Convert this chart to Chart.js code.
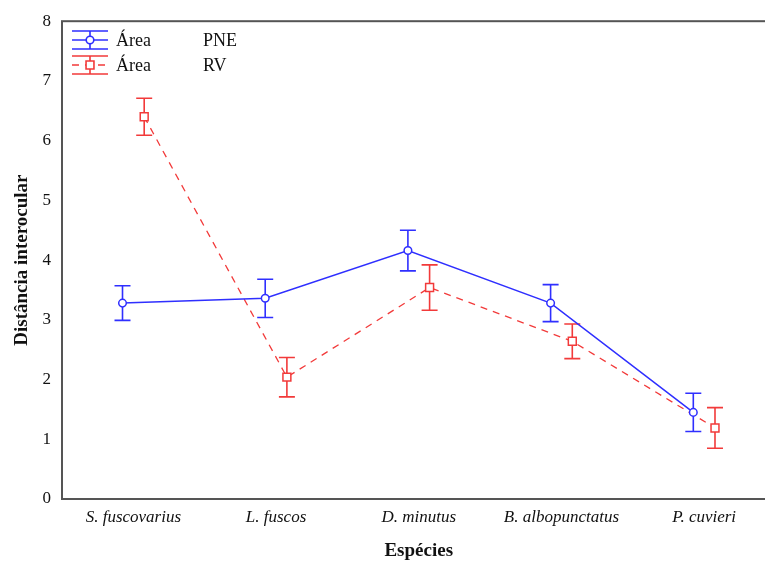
<!DOCTYPE html>
<html>
<head>
<meta charset="utf-8">
<script src="https://cdn.jsdelivr.net/npm/chart.js@4/dist/chart.umd.min.js"></script>
<style>
  html, body { margin: 0; padding: 0; background: #fff; overflow: hidden; width: 765px; height: 564px; }
  #wrap { width: 800px; height: 564px; }
</style>
</head>
<body>
<div id="wrap"><canvas id="chart" width="800" height="564"></canvas></div>
<script>
// data
const especies = ['S. fuscovarius', 'L. fuscos', 'D. minutus', 'B. albopunctatus', 'P. cuvieri'];
const grupo = 'Área';
const series = ['PNE', 'RV'];
const pne = [3.28, 3.36, 4.16, 3.28, 1.45];
const pneErr = [0.29, 0.32, 0.34, 0.31, 0.32];
const rv = [6.40, 2.04, 3.54, 2.64, 1.19];
const rvErr = [0.31, 0.33, 0.38, 0.29, 0.34];
const yTicks = [0, 1, 2, 3, 4, 5, 6, 7, 8];

const BLUE = '#2f2fff';
const RED = '#f23a3a';
const dodge = 0.076;

const serif = 'Liberation Serif, Times New Roman, serif';

// draw error bars under the points
const errorBars = {
  id: 'errorBars',
  beforeDatasetsDraw(chart) {
    const ctx = chart.ctx;
    const ys = chart.scales.y;
    chart.data.datasets.forEach((ds, di) => {
      const meta = chart.getDatasetMeta(di);
      ctx.save();
      ctx.strokeStyle = ds.borderColor;
      ctx.lineWidth = 1.6;
      meta.data.forEach((pt, i) => {
        const v = ds.data[i].y, e = ds.errors[i];
        const top = ys.getPixelForValue(v + e);
        const bot = ys.getPixelForValue(v - e);
        ctx.beginPath();
        ctx.moveTo(pt.x, top); ctx.lineTo(pt.x, bot);
        ctx.moveTo(pt.x - 8, top); ctx.lineTo(pt.x + 8, top);
        ctx.moveTo(pt.x - 8, bot); ctx.lineTo(pt.x + 8, bot);
        ctx.stroke();
      });
      ctx.restore();
    });
  }
};

// frame around plot area
const frame = {
  id: 'frame',
  beforeDatasetsDraw(chart) {
    const a = chart.chartArea, ctx = chart.ctx;
    ctx.save();
    ctx.strokeStyle = '#555';
    ctx.lineWidth = 2;
    ctx.strokeRect(a.left, a.top, a.right - a.left, a.bottom - a.top);
    ctx.restore();
  }
};

// statistica-like legend in the upper left corner
const cornerLegend = {
  id: 'cornerLegend',
  afterDraw(chart) {
    const ctx = chart.ctx;
    const rows = [40, 65];
    chart.data.datasets.forEach((ds, di) => {
      const cy = rows[di];
      const x0 = 72, x1 = 108, cx = 90;
      ctx.save();
      ctx.strokeStyle = ds.borderColor;
      ctx.lineWidth = 1.6;
      ctx.beginPath();
      ctx.moveTo(x0, cy - 9); ctx.lineTo(x1, cy - 9);
      ctx.moveTo(x0, cy + 9); ctx.lineTo(x1, cy + 9);
      ctx.moveTo(cx, cy - 9); ctx.lineTo(cx, cy + 9);
      ctx.stroke();
      ctx.setLineDash(ds.borderDash || []);
      ctx.beginPath();
      ctx.moveTo(x0, cy); ctx.lineTo(x1, cy);
      ctx.stroke();
      ctx.setLineDash([]);
      ctx.fillStyle = '#fff';
      ctx.beginPath();
      if (ds.pointStyle === 'rect') {
        const s = ds.pointRadius * Math.SQRT1_2;
        ctx.rect(cx - s, cy - s, 2 * s, 2 * s);
      } else {
        ctx.arc(cx, cy, ds.pointRadius, 0, Math.PI * 2);
      }
      ctx.fill();
      ctx.stroke();
      ctx.fillStyle = '#111';
      ctx.font = '18px ' + serif;
      ctx.textBaseline = 'middle';
      ctx.textAlign = 'left';
      ctx.fillText(grupo, 116, cy + 1);
      ctx.fillText(series[di], 203, cy + 1);
      ctx.restore();
    });
  }
};

new Chart(document.getElementById('chart'), {
  type: 'line',
  data: {
    datasets: [
      {
        label: grupo + ' ' + series[0],
        data: pne.map((v, i) => ({ x: i + 1 - dodge, y: v })),
        errors: pneErr,
        borderColor: BLUE,
        borderWidth: 1.5,
        pointStyle: 'circle',
        pointRadius: 3.8,
        pointBorderWidth: 1.5,
        pointBackgroundColor: '#fff',
        pointBorderColor: BLUE,
        tension: 0
      },
      {
        label: grupo + ' ' + series[1],
        data: rv.map((v, i) => ({ x: i + 1 + dodge, y: v })),
        errors: rvErr,
        borderColor: RED,
        borderWidth: 1.3,
        borderDash: [7, 6],
        pointStyle: 'rect',
        pointRadius: 5.6,
        pointBorderWidth: 1.5,
        pointBackgroundColor: '#fff',
        pointBorderColor: RED,
        tension: 0
      }
    ]
  },
  options: {
    responsive: false,
    animation: false,
    layout: { padding: { top: 20, right: 24.5, left: 0, bottom: 0 } },
    plugins: { legend: { display: false }, tooltip: { enabled: false } },
    scales: {
      x: {
        type: 'linear',
        min: 0.5,
        max: 5.5,
        afterBuildTicks(scale) { scale.ticks = especies.map((c, i) => ({ value: i + 1 })); },
        afterFit(scale) { scale.height = 65; },
        grid: { display: false, drawTicks: false },
        border: { display: false },
        ticks: {
          padding: 8,
          color: '#111',
          font: { family: serif, size: 17, style: 'italic' },
          callback: (v) => especies[v - 1]
        },
        title: {
          display: true,
          text: 'Espécies',
          color: '#111',
          font: { family: serif, size: 19, weight: 'bold' },
          padding: { top: 0, bottom: 2 }
        }
      },
      y: {
        min: 0,
        max: 8,
        afterBuildTicks(scale) { scale.ticks = yTicks.map(v => ({ value: v })); },
        afterFit(scale) { scale.width = 62; },
        grid: { display: false, drawTicks: false },
        border: { display: false },
        ticks: {
          padding: 11,
          color: '#111',
          font: { family: serif, size: 17 }
        },
        title: {
          display: true,
          text: 'Distância interocular',
          color: '#111',
          font: { family: serif, size: 19, weight: 'bold' },
          padding: { top: 11, bottom: 0 }
        }
      }
    }
  },
  plugins: [frame, errorBars, cornerLegend]
});
</script>
</body>
</html>
